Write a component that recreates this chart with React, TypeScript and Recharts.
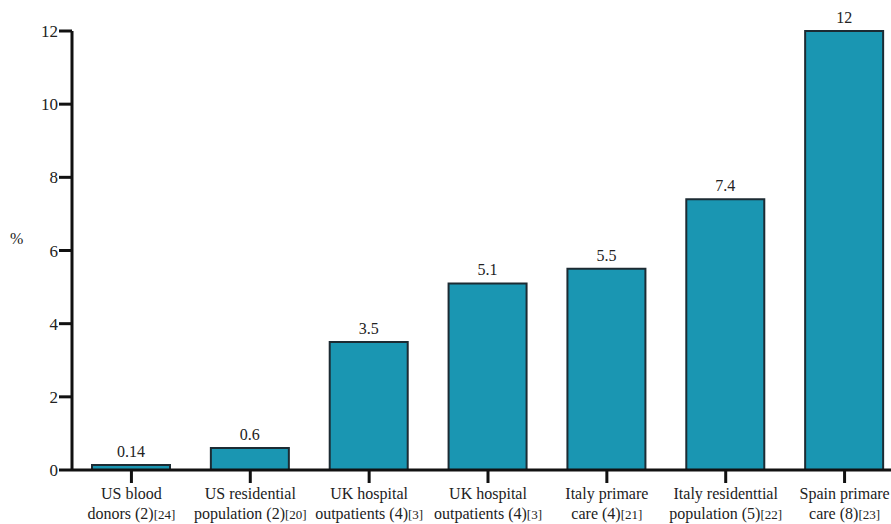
import { BarChart, Bar, XAxis, YAxis, LabelList } from 'recharts';

const LINE1 = ['US blood', 'US residential', 'UK hospital', 'UK hospital', 'Italy primare', 'Italy residenttial', 'Spain primare'];
const LINE2 = ['donors (2)', 'population (2)', 'outpatients (4)', 'outpatients (4)', 'care (4)', 'population (5)', 'care (8)'];
const REFS = ['[24]', '[20]', '[3]', '[3]', '[21]', '[22]', '[23]'];
const VALUES = [0.14, 0.6, 3.5, 5.1, 5.5, 7.4, 12];
const Y_TICKS = [0, 2, 4, 6, 8, 10, 12];

const data = VALUES.map((v, i) => ({ idx: i, value: v }));

const FONT = "Liberation Serif, Tinos, DejaVu Serif, serif";

function XTick({ x, y, payload }: { x?: number; y?: number; payload?: { value: number } }) {
  const i = payload?.value ?? 0;
  return (
    <g transform={`translate(${x},${y})`}>
      <text textAnchor="middle" fontFamily={FONT} fontSize={16} fill="#222">
        <tspan x={0} y={14}>{LINE1[i]}</tspan>
        <tspan x={0} y={34}>
          {LINE2[i]}
          <tspan fontSize={13}>{REFS[i]}</tspan>
        </tspan>
      </text>
    </g>
  );
}

export default function App() {
  return (
    <div style={{ position: 'absolute', left: 0, top: 0, width: 891, height: 524, overflow: 'hidden', background: '#fff', fontFamily: FONT }}>
      <BarChart
        width={904}
        height={524}
        data={data}
        margin={{ top: 31, right: 0, bottom: 0, left: 0 }}
        barCategoryGap={0}
      >
        <XAxis
          dataKey="idx"
          height={54}
          tick={<XTick />}
          interval={0}
          axisLine={{ stroke: '#111', strokeWidth: 3 }}
          tickLine={{ stroke: '#111', strokeWidth: 3 }}
          tickSize={13}
        />
        <YAxis
          width={72}
          domain={[0, 12]}
          ticks={Y_TICKS}
          axisLine={{ stroke: '#111', strokeWidth: 3 }}
          tickLine={{ stroke: '#111', strokeWidth: 3 }}
          tickSize={13}
          tickMargin={1}
          tick={{ fontSize: 17, fill: '#222', fontFamily: FONT }}
          label={{ value: '%', position: 'insideLeft', offset: 10, dy: -12, fontSize: 16, fill: '#222', fontFamily: FONT }}
        />
        <Bar dataKey="value" fill="#1a96b2" stroke="#1c2b33" strokeWidth={2} barSize={78} isAnimationActive={false}>
          <LabelList dataKey="value" position="top" offset={8} fontSize={16} fill="#222" fontFamily={FONT} />
        </Bar>
      </BarChart>
    </div>
  );
}
